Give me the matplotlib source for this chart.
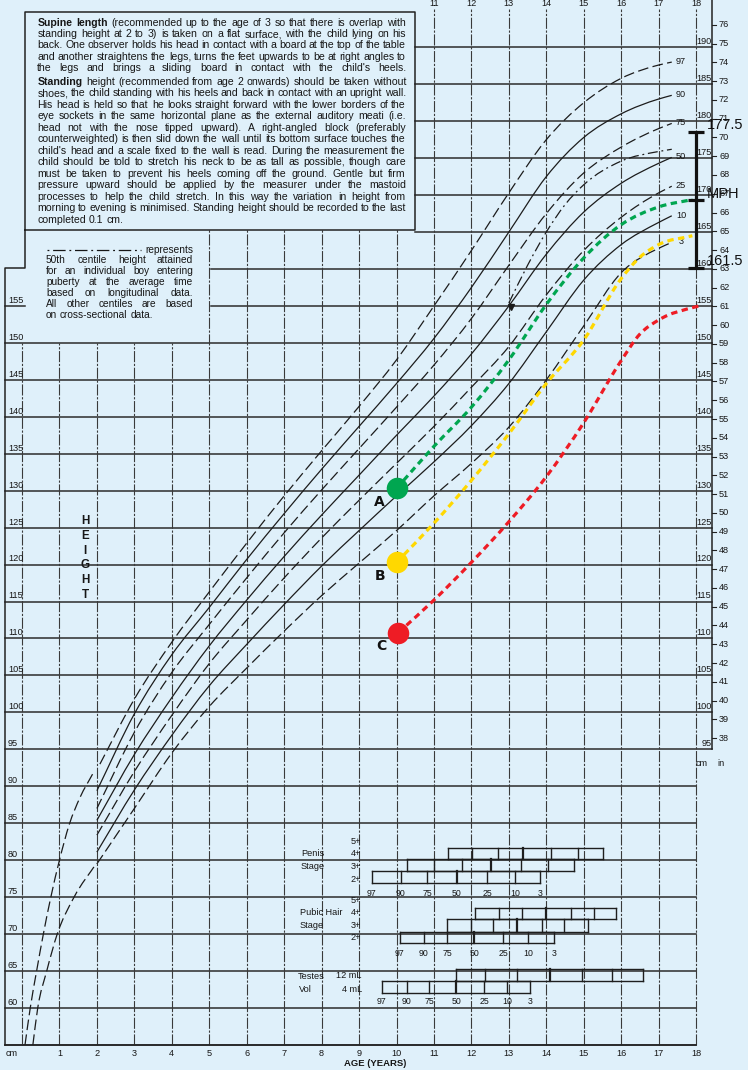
"""Boys' height chart (0-18 years) with three plotted children and mid-parental height."""

import numpy as np
import matplotlib
matplotlib.use("Agg")
from matplotlib import pyplot as plt
from matplotlib.path import Path
from matplotlib.patches import PathPatch

# centile curves, standing height from age 2 (cm)
ages = [2, 3, 4, 5, 6, 7, 8, 9, 10, 11, 12, 13, 14, 15, 16, 17, 17.35]
ages_97 = [2.08, 3, 4, 5, 6, 7, 8, 9, 10, 11, 12, 13, 14, 15, 16, 17, 17.35]
h97 = [93.0, 101.8, 109.5, 116.3, 122.9, 129.3, 135.4, 141.4, 147.7, 155.0, 162.5, 170.3, 177.5, 182.5, 185.8, 187.6, 188.0]
h90 = [89.4, 99.8, 107.8, 114.2, 120.7, 126.9, 132.9, 138.7, 144.5, 150.6, 157.5, 165.0, 172.5, 177.8, 181.0, 183.0, 183.5]
h75 = [87.0, 97.3, 105.4, 111.9, 118.2, 124.3, 130.1, 135.7, 141.3, 147.0, 153.3, 160.5, 167.5, 173.0, 176.5, 179.0, 179.7]
h50 = [85.4, 94.3, 102.0, 109.0, 115.2, 121.1, 126.7, 132.1, 137.5, 142.8, 148.5, 155.0, 162.0, 167.7, 171.6, 174.3, 175.1]
h25 = [83.4, 92.0, 99.6, 106.6, 112.5, 118.2, 123.6, 128.7, 133.7, 138.7, 144.0, 149.5, 156.5, 162.5, 167.0, 170.3, 171.2]
h10 = [81.1, 89.5, 96.9, 103.6, 109.2, 114.6, 119.8, 124.6, 129.3, 133.9, 138.8, 144.5, 151.5, 158.5, 163.3, 166.3, 167.2]
h3 = [79.5, 87.0, 94.5, 100.8, 106.0, 111.0, 115.8, 120.2, 124.6, 129.3, 133.7, 138.6, 145.0, 152.3, 159.5, 162.8, 163.6]
centile_labels = ["97", "90", "75", "50", "25", "10", "3"]

# supine length curves (birth to 2)
supine_age_97 = [0.08, 0.22, 0.39, 0.57, 0.77, 1.0, 1.26, 1.55, 1.89]
supine_h_97 = [55, 60, 65, 70, 75, 80, 84.8, 88.5, 91.7]
supine_age_3 = [0.29, 0.42, 0.66, 0.94, 1.39, 1.99]
supine_h_3 = [55, 60, 65, 70, 75, 79.6]

# longitudinal 50th centile (average puberty)
long_age = [13.0, 13.5, 14, 14.5, 15, 16, 17, 17.35]
long_h = [155.4, 160.5, 165.0, 168.7, 171.4, 174.6, 175.9, 176.2]

# the three children
patient_names = ["A", "B", "C"]
patient_age = [10.0, 10.0, 10.05]
patient_h = [130.3, 120.3, 110.8]
a_age = [10, 11, 12, 13, 14, 15, 16, 17, 17.9]
a_h = [130.3, 136.0, 141.3, 147.7, 155.2, 161.5, 166.0, 168.4, 169.4]
b_age = [10, 11, 12, 13, 14, 15, 16, 16.5, 17, 17.9]
b_h = [120.3, 125.6, 131.4, 137.7, 144.5, 150.4, 158.7, 161.6, 163.3, 164.5]
c_age = [10.05, 11, 12, 13, 14, 15, 16, 16.5, 17, 18, 18.15]
c_h = [110.8, 115.2, 120.3, 125.8, 131.9, 139.2, 147.6, 151.2, 153.1, 154.9, 155.1]

# mid-parental height bar
mph_top, mph_mid, mph_bot = 178.6, 169.4, 160.1
mph_labels = ["177.5", "MPH", "161.5"]

# puberty staging: ages at the 97, 90, 75, 50, 25, 10, 3 centiles
penis_4 = [11.38, 12.01, 12.72, 13.37, 14.12, 14.84, 15.51]
penis_3 = [10.27, 11.0, 11.74, 12.52, 13.32, 14.05, 14.74]
penis_2 = [9.34, 10.11, 10.82, 11.61, 12.42, 13.16, 13.83]
pubic_4 = [12.1, 12.74, 13.36, 13.99, 14.65, 15.27, 15.85]
pubic_3 = [11.36, 11.98, 12.57, 13.21, 13.88, 14.47, 15.12]
pubic_2 = [10.09, 10.73, 11.36, 12.08, 12.85, 13.52, 14.21]
testes_12 = [11.59, 12.36, 13.21, 14.1, 14.95, 15.76, 16.59]
testes_4 = [9.6, 10.27, 10.87, 11.59, 12.34, 12.96, 13.56]

BG = "#dff0fa"
INK = "#161616"
FONT = ["Liberation Sans", "DejaVu Sans"]
NARROW = ["Liberation Sans Narrow", "Liberation Sans", "DejaVu Sans"]


# Scan geometry: 1 year = 37.45 px, 1 cm = 7.39 px, age 0 at x=22, 190 cm at y=47.3.
def ax_x(px):
    return (px - 22.0) / 37.45


def ax_y(py):
    return 190.0 - (py - 47.3) / 7.39


def smooth(xs, ys):
    """Cubic Hermite bezier path through the points."""
    x = np.asarray(xs, float)
    y = np.asarray(ys, float)
    dx = np.diff(x)
    d = np.diff(y) / dx
    m = np.empty_like(y)
    m[0], m[-1] = d[0], d[-1]
    m[1:-1] = (d[:-1] * dx[1:] + d[1:] * dx[:-1]) / (dx[:-1] + dx[1:])
    verts = [(x[0], y[0])]
    codes = [Path.MOVETO]
    for i in range(len(x) - 1):
        s = dx[i] / 3
        verts += [(x[i] + s, y[i] + m[i] * s), (x[i + 1] - s, y[i + 1] - m[i + 1] * s), (x[i + 1], y[i + 1])]
        codes += [Path.CURVE4] * 3
    return Path(verts, codes)


def curve(xs, ys, **kw):
    ax.add_patch(PathPatch(smooth(xs, ys), fill=False, **kw))


fig = plt.figure(figsize=(7.48, 10.70), dpi=100)
fig.patch.set_facecolor(BG)
ax = fig.add_axes([0, 0, 1, 1])
ax.set_facecolor(BG)
ax.set_xlim(ax_x(0), ax_x(748))
ax.set_ylim(ax_y(1070), ax_y(0))
ax.axis("off")
renderer = fig.canvas.get_renderer()

LEFT, RIGHT = ax_x(5), ax_x(712)
BOX_L, BOX_R = ax_x(25), ax_x(415)
BOX_T, BOX_B = ax_y(11.7), ax_y(230)
STEP = ax_y(268)

# ---- grid ----
hkw = dict(color="#2b2b2b", lw=1.1, zorder=1)
vkw = dict(color="#3a3a3a", lw=0.8, ls=(0, (10, 1.5, 2, 1.5)), zorder=1)
for h in range(55, 191, 5):
    if h >= 165:
        x0 = BOX_R
    elif h >= 155:
        x0 = ax_x(211)
    else:
        x0 = LEFT
    x1 = RIGHT if h >= 95 else 18.0
    ax.plot([x0, x1], [h, h], **hkw)
ax.plot([LEFT, BOX_L], [155, 155], **hkw)
for a in range(0, 19):
    if a <= 4:
        top = 150
    elif a <= 10:
        top = BOX_B
    else:
        top = ax_y(9)
    ax.plot([a, a], [55, top], **vkw)

# frame and text box
fkw = dict(color="#222222", lw=1.1, zorder=1)
ax.plot([LEFT, LEFT, BOX_L, BOX_L, BOX_R, BOX_R, BOX_L],
        [55, STEP, STEP, BOX_T, BOX_T, BOX_B, BOX_B], **fkw)
ax.plot([RIGHT, RIGHT], [95, ax_y(0)], **fkw)
ax.plot([LEFT, 18], [55, 55], **fkw)

# ---- axis labels ----
lab = dict(fontsize=6.6, color=INK, family=NARROW)
for h in range(60, 160, 5):
    ax.text(ax_x(8), h + 0.15, str(h), ha="left", va="bottom", **lab)
for h in range(95, 191, 5):
    ax.text(RIGHT - 0.02, h + 0.15, str(h), ha="right", va="bottom", **lab)
for n in range(38, 77):
    y = 2.54 * n
    ax.plot([RIGHT, ax_x(716)], [y, y], color="#222222", lw=0.8)
    ax.text(ax_x(719), y, str(n), ha="left", va="center", **lab)
ax.text(ax_x(702), ax_y(763), "cm", ha="center", va="center", **lab)
ax.text(ax_x(721), ax_y(763), "in", ha="center", va="center", **lab)
ax.text(ax_x(12), ax_y(1053), "cm", ha="center", va="center", **lab)
for a in range(1, 19):
    ax.text(a, ax_y(1053), str(a), ha="center", va="center", **lab)
for a in range(11, 19):
    ax.text(a, ax_y(4), str(a), ha="center", va="center", **lab)
ax.text(ax_x(375), ax_y(1064), "AGE (YEARS)", ha="center", va="center",
        fontsize=6.8, fontweight="bold", color=INK, family=NARROW)
for i, ch in enumerate("HEIGHT"):
    ax.text(ax_x(85), ax_y(521 + 14.8 * i), ch, ha="center", va="center",
            fontsize=8.4, fontweight="bold", color=INK, family=FONT)

# ---- centile curves ----
dash = (0, (8.5, 3.5))
ckw = dict(color="#1c1c1c", lw=0.9, zorder=3)
curve(supine_age_97, supine_h_97, ls=dash, **ckw)
curve(supine_age_3, supine_h_3, ls=dash, **ckw)
series = [h97, h90, h75, h50, h25, h10, h3]
for name, hs in zip(centile_labels, series):
    xs = ages_97 if name == "97" else ages
    style = "-" if name in ("90", "50", "10") else dash
    curve(xs, hs, ls=style, **ckw)
    ax.text(ax_x(681), hs[-1] + 0.1, name, ha="center", va="center", **lab)
curve(long_age, long_h, ls=(0, (8, 3, 1.5, 3)), **ckw)
ax.plot([long_age[0] + 0.05], [long_h[0] - 0.5], marker="v", ms=4, color="#1c1c1c", zorder=3)

# ---- patients ----
colors = ["#00a650", "#ffd800", "#ee1c25"]
for xs, hs, col in zip([a_age, b_age, c_age], [a_h, b_h, c_h], colors):
    curve(xs, hs, ls=(0, (2.0, 1.4)), lw=2.3, color=col, zorder=5)
for name, a, h, col in zip(patient_names, patient_age, patient_h, colors):
    ax.plot([a], [h], marker="o", ms=15.5, color=col, mec="none", zorder=6)
    ax.text(a - 0.45, h - 1.8, name, ha="center", va="center", fontsize=10,
            fontweight="bold", color="#111111", family="DejaVu Sans", zorder=6)

# ---- mid-parental height ----
bkw = dict(color="#111111", lw=2.3, zorder=7, solid_capstyle="butt")
ax.plot([18, 18], [mph_bot, mph_top], **bkw)
for h in (mph_top, mph_mid, mph_bot):
    ax.plot([ax_x(688), ax_x(704)], [h, h], **bkw)
for h, s in zip([mph_top + 0.9, mph_mid + 0.7, mph_bot + 1.0], mph_labels):
    ax.text(ax_x(707), h, s, ha="left", va="center", fontsize=10.5, color="#111111",
            family=FONT, zorder=7)


# ---- justified text ----
def word_width(word, size, weight):
    t = ax.text(0, 0, word, fontsize=size, fontweight=weight, family=FONT)
    w = t.get_window_extent(renderer).width
    t.remove()
    return w


def text_line(line, left, right, ypx, size, justify=True):
    words = line.split()
    weights = ["bold" if w.startswith("*") else "normal" for w in words]
    words = [w.lstrip("*") for w in words]
    widths = [word_width(w, size, wt) for w, wt in zip(words, weights)]
    space = word_width("a a", size, "normal") - 2 * word_width("a", size, "normal")
    gap = (right - left - sum(widths)) / (len(words) - 1) if justify and len(words) > 1 else space
    x = left
    for w, wt, wd in zip(words, weights, widths):
        ax.text(ax_x(x), ax_y(ypx), w, ha="left", va="center", fontsize=size,
                fontweight=wt, color=INK, family=FONT)
        x += wd + gap


para1 = [
    "*Supine *length (recommended up to the age of 3 so that there is overlap with",
    "standing height at 2 to 3) is taken on a flat surface, with the child lying on his",
    "back. One observer holds his head in contact with a board at the top of the table",
    "and another straightens the legs, turns the feet upwards to be at right angles to",
    "the legs and brings a sliding board in contact with the child's heels.",
]
para2 = [
    "*Standing height (recommended from age 2 onwards) should be taken without",
    "shoes, the child standing with his heels and back in contact with an upright wall.",
    "His head is held so that he looks straight forward with the lower borders of the",
    "eye sockets in the same horizontal plane as the external auditory meati (i.e.",
    "head not with the nose tipped upward). A right-angled block (preferably",
    "counterweighted) is then slid down the wall until its bottom surface touches the",
    "child's head and a scale fixed to the wall is read. During the measurement the",
    "child should be told to stretch his neck to be as tall as possible, though care",
    "must be taken to prevent his heels coming off the ground. Gentle but firm",
    "pressure upward should be applied by the measurer under the mastoid",
    "processes to help the child stretch. In this way the variation in height from",
    "morning to evening is minimised. Standing height should be recorded to the last",
    "completed 0.1 cm.",
]
for i, line in enumerate(para1):
    text_line(line, 37.3, 406, 22.7 + 11.4 * i, 7.6)
for i, line in enumerate(para2):
    text_line(line, 37.3, 406, 81.7 + 11.52 * i, 7.6, justify=i < len(para2) - 1)

legend_lines = [
    "50th centile height attained",
    "for an individual boy entering",
    "puberty at the average time",
    "based on longitudinal data.",
    "All other centiles are based",
    "on cross-sectional data.",
]
ax.plot([ax_x(47), ax_x(141)], [ax_y(250)] * 2, color=INK, lw=0.9, ls=(0, (1.5, 3, 10, 3)))
ax.text(ax_x(193.3), ax_y(250), "represents", ha="right", va="center", fontsize=7.3,
        color=INK, family=FONT)
for i, line in enumerate(legend_lines):
    text_line(line, 46, 193.3, 260.5 + 10.9 * i, 7.3, justify=i < len(legend_lines) - 1)


# ---- puberty staging boxes ----
def stage_box(row, top_px, bot_px):
    y0, y1 = ax_y(bot_px), ax_y(top_px)
    kw = dict(color="#1e1e1e", lw=1.0, zorder=4)
    ax.plot([row[0], row[-1]], [y0, y0], **kw)
    ax.plot([row[0], row[-1]], [y1, y1], **kw)
    for j, a in enumerate(row):
        ax.plot([a, a], [y0, y1], color="#1e1e1e", lw=1.6 if j == 3 else 1.0, zorder=4)


def centile_row(row, ypx):
    for a, s in zip(row, centile_labels):
        ax.text(a, ax_y(ypx), s, ha="center", va="center", fontsize=6.3, color=INK,
                family=NARROW)


stage_box(penis_4, 847.7, 859.3)
stage_box(penis_3, 859.3, 870.7)
stage_box(penis_2, 870.7, 883.3)
centile_row(penis_2, 893.3)
stage_box(pubic_4, 907.7, 919.3)
stage_box(pubic_3, 919.3, 931.7)
stage_box(pubic_2, 931.7, 943.3)
centile_row(pubic_2, 953.3)
stage_box(testes_12, 969.3, 980.7)
stage_box(testes_4, 980.7, 993.3)
centile_row(testes_4, 1001.7)

skw = dict(fontsize=6.6, color=INK, family=NARROW, va="center")
for ypx, s in zip([841.7, 854, 866.7, 879.3], ["5+", "4+", "3+", "2+"]):
    ax.text(ax_x(361), ax_y(ypx), s, ha="right", **skw)
for ypx, s in zip([900.7, 912.7, 925, 937.3], ["5+", "4+", "3+", "2+"]):
    ax.text(ax_x(361), ax_y(ypx), s, ha="right", **skw)
ax.text(ax_x(301), ax_y(854), "Penis", ha="left", **skw)
ax.text(ax_x(301), ax_y(866.7), "Stage", ha="left", **skw)
ax.text(ax_x(300), ax_y(912.7), "Pubic Hair", ha="left", **skw)
ax.text(ax_x(300), ax_y(925), "Stage", ha="left", **skw)
ax.text(ax_x(298), ax_y(976.7), "Testes", ha="left", **skw)
ax.text(ax_x(299), ax_y(989.3), "Vol", ha="left", **skw)
ax.text(ax_x(362), ax_y(976), "12 mL", ha="right", **skw)
ax.text(ax_x(362), ax_y(989.3), "4 mL", ha="right", **skw)

fig.savefig("out.png", dpi=100, facecolor=BG)
